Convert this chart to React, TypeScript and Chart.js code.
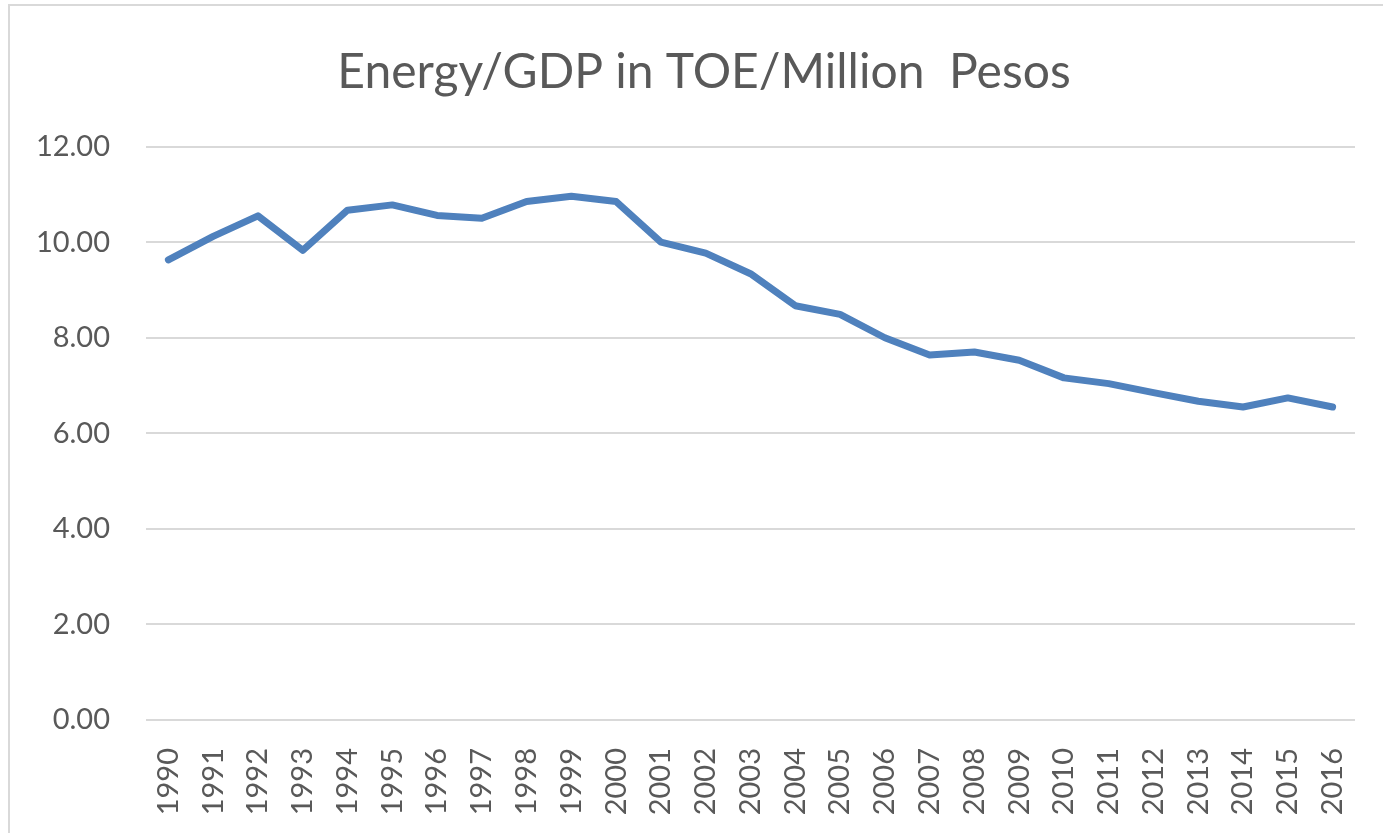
import React, { useEffect, useRef } from "react";
import { Chart, registerables } from "chart.js";

Chart.register(...registerables);

const years = [
  "1990", "1991", "1992", "1993", "1994", "1995", "1996", "1997", "1998", "1999",
  "2000", "2001", "2002", "2003", "2004", "2005", "2006", "2007", "2008", "2009",
  "2010", "2011", "2012", "2013", "2014", "2015", "2016",
];

const energyPerGdp = [
  9.63, 10.12, 10.55, 9.83, 10.67, 10.78, 10.56, 10.5, 10.85, 10.96,
  10.85, 10.0, 9.77, 9.34, 8.67, 8.49, 8.0, 7.64, 7.7, 7.53,
  7.16, 7.04, 6.85, 6.67, 6.55, 6.74, 6.55,
];

const titleText = "Energy/GDP in TOE/Million  Pesos";
const yMin = 0;
const yMax = 12;
const yStep = 2;

const FONT = "Lato";
const TEXT = "#595959";
const GRID = "#d9d9d9";
const LINE = "#4f81bd";

const titleShift = {
  id: "titleShift",
  afterLayout(chart: any) {
    const t = chart.titleBlock;
    if (t) {
      t.left = t.left + 53;
    }
  },
};

export default function App() {
  const ref = useRef<HTMLCanvasElement | null>(null);

  useEffect(() => {
    if (!ref.current) return;
    const chart = new Chart(ref.current, {
      type: "line",
      data: {
        labels: years,
        datasets: [
          {
            data: energyPerGdp,
            borderColor: LINE,
            backgroundColor: LINE,
            borderWidth: 7,
            pointRadius: 0,
            tension: 0,
            borderCapStyle: "round",
            borderJoinStyle: "round",
          },
        ],
      },
      plugins: [titleShift],
      options: {
        animation: false,
        responsive: false,
        maintainAspectRatio: false,
        layout: { padding: { left: 0, right: 28, top: 0, bottom: 0 } },
        plugins: {
          legend: { display: false },
          tooltip: { enabled: false },
          title: {
            display: true,
            text: titleText,
            color: TEXT,
            font: { family: FONT, size: 48, weight: "normal" },
            padding: { top: 44, bottom: 45 },
          },
        },
        scales: {
          x: {
            offset: true,
            grid: { display: false, drawTicks: false },
            border: { display: false },
            ticks: {
              color: TEXT,
              font: { family: FONT, size: 29 },
              minRotation: 90,
              maxRotation: 90,
              padding: 28,
              autoSkip: false,
            },
            afterFit: (s: any) => {
              s.height = 113;
              s.paddingLeft = 0;
              s.paddingRight = 0;
            },
          },
          y: {
            min: yMin,
            max: yMax,
            grid: { color: GRID, lineWidth: 2, drawTicks: false },
            border: { display: false },
            ticks: {
              stepSize: yStep,
              color: TEXT,
              font: { family: FONT, size: 29 },
              padding: 36,
              callback: (v: any) => Number(v).toFixed(2),
            },
            afterFit: (s: any) => {
              s.width = 146;
            },
          },
        },
      },
    });
    return () => chart.destroy();
  }, []);

  return (
    <div
      style={{
        position: "fixed",
        left: 0,
        top: 0,
        width: 1383,
        height: 833,
        background: "#fff",
        overflow: "hidden",
      }}
    >
      <canvas
        ref={ref}
        width={1383}
        height={833}
        style={{ position: "absolute", left: 0, top: 0, width: 1383, height: 833 }}
      />
      <div
        style={{
          position: "absolute",
          left: 8,
          top: 4,
          width: 1420,
          height: 880,
          border: "2px solid #d9d9d9",
          boxSizing: "border-box",
          pointerEvents: "none",
        }}
      />
    </div>
  );
}
